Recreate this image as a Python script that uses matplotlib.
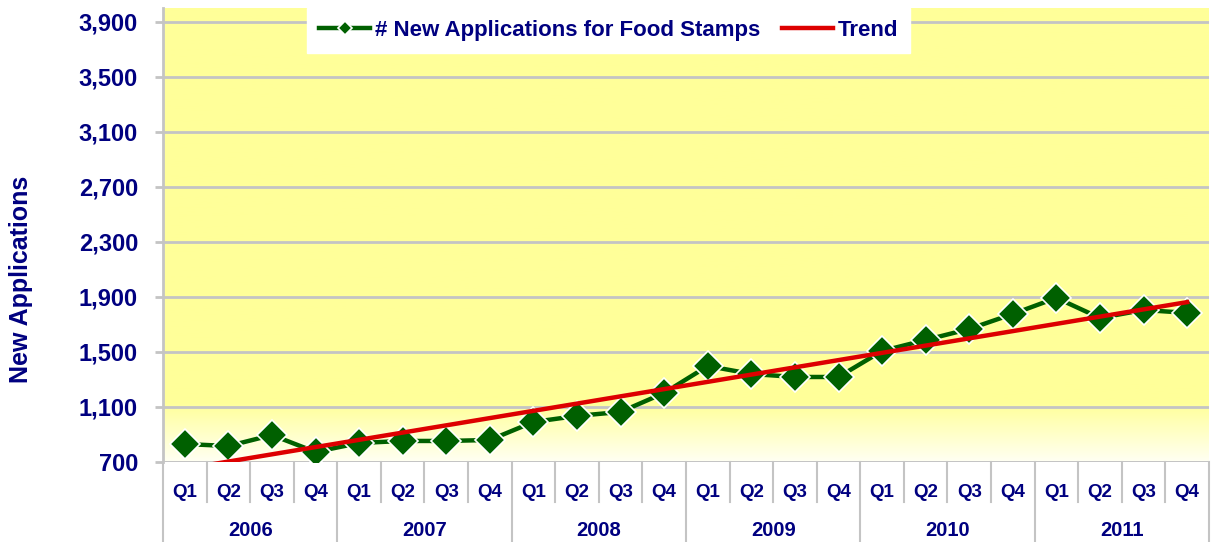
import numpy as np
import matplotlib.pyplot as plt
from matplotlib import rcParams
from matplotlib.transforms import blended_transform_factory
from matplotlib.colors import LinearSegmentedColormap

rcParams.update({'font.family': ['Liberation Sans', 'DejaVu Sans'], 'font.weight': 'bold'})

NAVY = '#000080'
GRID = '#C4C4C4'

years = ['2006', '2007', '2008', '2009', '2010', '2011']
quarters = ['Q1', 'Q2', 'Q3', 'Q4']
applications = [831, 816, 896, 773,
                838, 853, 853, 860,
                991, 1035, 1064, 1202,
                1398, 1340, 1318, 1318,
                1507, 1587, 1667, 1776,
                1893, 1747, 1805, 1784]
yticks = [700, 1100, 1500, 1900, 2300, 2700, 3100, 3500, 3900]

x = np.arange(len(applications))
# linear trend, as the spreadsheet would draw it
coef = np.polyfit(x, applications, 1)
trend = np.polyval(coef, x)

fig = plt.figure(figsize=(12.11, 5.42), dpi=100)
ax = fig.add_axes([0.1346, 0.1476, 0.8637, 0.8376])
ax.set_xlim(-0.5, len(x) - 0.5)
ax.set_ylim(700, 4000)

# yellow background fading to pale near the bottom
cmap = LinearSegmentedColormap.from_list('bg', [(0, '#FFFFF2'), (0.13, '#FFFF99'), (1, '#FFFF99')])
grad = np.linspace(0, 1, 256).reshape(-1, 1)
ax.imshow(grad, aspect='auto', cmap=cmap, origin='lower', extent=[-0.5, len(x) - 0.5, 700, 4000], zorder=0)

ax.set_yticks(yticks)
ax.set_yticklabels([f'{v:,}' for v in yticks], fontsize=17, color=NAVY, fontweight='bold')
ax.tick_params(axis='y', length=6, width=2, color=GRID, pad=12)
ax.yaxis.grid(True, color=GRID, linewidth=2, zorder=1)
ax.set_axisbelow(True)
for s in ['top', 'right', 'bottom']:
    ax.spines[s].set_visible(False)
ax.spines['left'].set_color(GRID)
ax.spines['left'].set_linewidth(2)
fig.text(21 / 1211, 1 - 279 / 542, 'New Applications', rotation=90, ha='center', va='center',
         fontsize=18, color=NAVY, fontweight='bold')

# two level category axis
ax.set_xticks(x)
ax.set_xticklabels(quarters * len(years), fontsize=13.5, color=NAVY, fontweight='bold')
ax.tick_params(axis='x', length=0, pad=16)
tr = blended_transform_factory(ax.transData, ax.transAxes)
for i, yr in enumerate(years):
    ax.text(i * 4 + 1.5, -0.150, yr, transform=tr, ha='center', va='center',
            fontsize=14.5, color=NAVY, fontweight='bold')
for b in np.arange(-0.5, len(x), 1.0):
    low = -0.18 if (b + 0.5) % 4 == 0 else -0.088
    ax.plot([b, b], [0, low], transform=tr, color=GRID, linewidth=1.5, clip_on=False)
ax.axhline(700, color=GRID, linewidth=2, zorder=1)

ax.plot(x, applications, color='#006000', linewidth=3.2, marker='D', markersize=15,
        markeredgecolor='white', markeredgewidth=1.2, zorder=3,
        label='# New Applications for Food Stamps')
ax.plot(x, trend, color='#DD0000', linewidth=3.2, zorder=4, label='Trend')

leg = ax.legend(loc='upper center', bbox_to_anchor=(0.426, 1.0), ncol=2, frameon=True,
                fancybox=False, borderpad=0.55, borderaxespad=0, handlelength=2.3,
                handletextpad=0.2, columnspacing=1.0, markerscale=0.5,
                prop={'size': 16, 'weight': 'bold'})
leg.get_frame().set_edgecolor('white')
leg.get_frame().set_facecolor('white')
leg.get_frame().set_alpha(1)
for t in leg.get_texts():
    t.set_color(NAVY)

fig.savefig('out.png', dpi=100)
